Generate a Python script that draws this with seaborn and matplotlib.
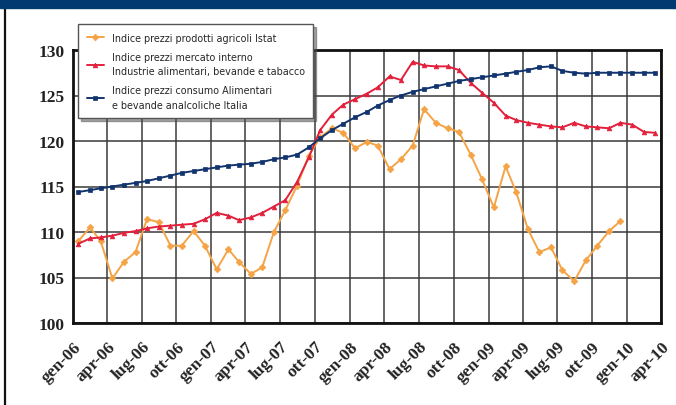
import pandas as pd
import matplotlib
matplotlib.use("Agg")
import matplotlib.pyplot as plt
import matplotlib.transforms as mtransforms
import seaborn as sns
from matplotlib.lines import Line2D
from matplotlib.patches import Rectangle

# Monthly index values, starting gen-06
agricoli = [109.0, 110.5, 109.0, 104.9, 106.7, 107.8, 111.4, 111.1, 108.5, 108.5,
            110.1, 108.5, 105.9, 108.1, 106.7, 105.4, 106.1, 110.0, 112.4, 115.1,
            118.4, 120.4, 121.4, 120.9, 119.2, 119.9, 119.5, 116.9, 118.0, 119.5,
            123.5, 122.0, 121.4, 121.0, 118.5, 115.8, 112.7, 117.2, 114.4, 110.3,
            107.8, 108.3, 105.8, 104.6, 106.9, 108.5, 110.1, 111.2]

industria = [108.7, 109.3, 109.4, 109.6, 109.9, 110.1, 110.4, 110.6, 110.7, 110.8,
             110.9, 111.4, 112.1, 111.8, 111.3, 111.6, 112.1, 112.8, 113.5, 115.5,
             118.2, 121.2, 122.9, 124.0, 124.6, 125.2, 125.9, 127.1, 126.7, 128.7,
             128.3, 128.2, 128.2, 127.8, 126.4, 125.3, 124.2, 122.8, 122.3, 122.0,
             121.8, 121.6, 121.5, 122.0, 121.6, 121.5, 121.4, 122.0, 121.8, 121.0,
             120.9]

consumo = [114.4, 114.6, 114.8, 115.0, 115.2, 115.4, 115.6, 115.9, 116.2, 116.5,
           116.7, 116.9, 117.1, 117.3, 117.4, 117.5, 117.7, 118.0, 118.2, 118.5,
           119.3, 120.3, 121.2, 121.9, 122.6, 123.2, 123.9, 124.5, 125.0, 125.4,
           125.7, 126.0, 126.3, 126.6, 126.8, 127.0, 127.2, 127.4, 127.6, 127.8,
           128.1, 128.2, 127.7, 127.5, 127.4, 127.5, 127.5, 127.5, 127.5, 127.5,
           127.5]

labels = ["Indice prezzi prodotti agricoli Istat",
          "Indice prezzi mercato interno\nIndustrie alimentari, bevande e tabacco",
          "Indice prezzi consumo Alimentari\ne bevande analcoliche Italia"]
colors = ["#f4a446", "#e3203c", "#12346e"]
markers = ["D", "^", "s"]

tick_labels = ["gen-06", "apr-06", "lug-06", "ott-06", "gen-07", "apr-07", "lug-07",
               "ott-07", "gen-08", "apr-08", "lug-08", "ott-08", "gen-09", "apr-09",
               "lug-09", "ott-09", "gen-10", "apr-10"]

# mid-month positions
def months(n):
    return pd.date_range("2006-01-01", periods=n, freq="MS") + pd.Timedelta(days=14)

sns.set_style("white")

fig = plt.figure(figsize=(6.76, 4.06), dpi=100)
ax = fig.add_axes([73 / 676, 1 - 324 / 406, (661 - 73) / 676, (324 - 51) / 406])

for vals, lab, col, mk in zip([agricoli, industria, consumo], labels, colors, markers):
    df = pd.DataFrame({"Mese": months(len(vals)), "Indice": vals})
    sns.lineplot(data=df, x="Mese", y="Indice", color=col, marker=mk, markersize=3.4,
                 markeredgecolor=col, markeredgewidth=0.5, linewidth=1.4, label=lab, ax=ax)

ticks = pd.date_range("2006-01-01", "2010-04-01", freq="3MS")
ax.set_xticks(ticks)
ax.set_xticklabels(tick_labels, rotation=45, ha="right", rotation_mode="anchor",
                   family="Liberation Serif", fontweight="bold", fontsize=12.5, color="#222")
shift = mtransforms.ScaledTranslation(-9 / 100, 0, fig.dpi_scale_trans)
for t in ax.get_xticklabels():
    t.set_transform(t.get_transform() + shift)
ax.set_xlim(ticks[0], ticks[-1])
ax.set_ylim(100, 130)
ax.set_yticks(range(100, 131, 5))
ax.set_yticklabels([str(v) for v in range(100, 131, 5)],
                   family="Liberation Serif", fontweight="bold", fontsize=12.5, color="#222")
ax.tick_params(axis="x", length=0, pad=11)
ax.tick_params(axis="y", length=0, pad=6)
ax.set_xlabel("")
ax.set_ylabel("")
ax.grid(True, color="#3a3a3a", linewidth=1.1)
ax.set_axisbelow(True)
for s in ax.spines.values():
    s.set_color("#111")
    s.set_linewidth(2)

leg = ax.legend(loc="upper left", bbox_to_anchor=(78 / 676, 1 - 25 / 406),
                bbox_transform=fig.transFigure, borderaxespad=0, frameon=True,
                fancybox=False, framealpha=1, edgecolor="#555", shadow=True,
                borderpad=0.9, handlelength=1.8, handletextpad=0.8, labelspacing=0.95,
                prop={"family": ["Liberation Sans Narrow", "DejaVu Sans"], "size": 6.9})
leg.get_frame().set_linewidth(1)
for t in leg.get_texts():
    t.set_linespacing(1.55)

# header band and left frame line
fig.patches.append(Rectangle((0, 1 - 9 / 406), 1, 9 / 406, transform=fig.transFigure,
                             color="#013a70", zorder=5))
fig.add_artist(Line2D([4.5 / 676, 4.5 / 676], [0, 1 - 9 / 406], color="#111", linewidth=1.6))

fig.savefig("out.png", dpi=100)
